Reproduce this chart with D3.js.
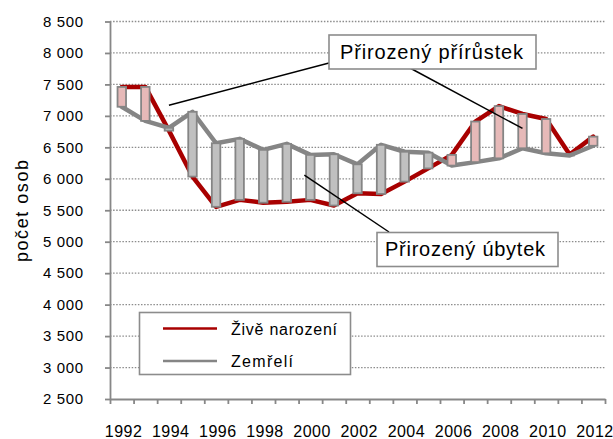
<!DOCTYPE html>
<html>
<head>
<meta charset="utf-8">
<script src="https://cdn.jsdelivr.net/npm/d3@7"></script>
<style>
  body { margin: 0; background: #fff; }
  svg { font-family: "Liberation Sans", Arial, sans-serif; }
</style>
</head>
<body>
<svg width="613" height="439"></svg>
<script>
const years = [1992, 1993, 1994, 1995, 1996, 1997, 1998, 1999, 2000, 2001, 2002,
  2003, 2004, 2005, 2006, 2007, 2008, 2009, 2010, 2011, 2012];
// Živě narození
const births = [7460, 7460, 6765, 6035, 5555, 5665, 5620, 5635, 5665, 5575, 5770,
  5760, 5955, 6165, 6380, 6910, 7155, 7030, 6950, 6385, 6670];
// Zemřelí
const deaths = [7145, 6920, 6810, 7065, 6565, 6635, 6460, 6555, 6380, 6390, 6230,
  6540, 6430, 6415, 6210, 6265, 6325, 6485, 6405, 6370, 6525];
const yTicks = [2500, 3000, 3500, 4000, 4500, 5000, 5500, 6000, 6500, 7000, 7500, 8000, 8500];
const xLabels = [1992, 1994, 1996, 1998, 2000, 2002, 2004, 2006, 2008, 2010, 2012];

const svg = d3.select('svg');

const x = d3.scaleBand()
  .domain(years)
  .range([110, 605]);
const y = d3.scaleLinear()
  .domain([2500, 8500])
  .range([399, 21.5]);
const cx = d => x(d) + x.bandwidth() / 2;

const fmt = d3.formatLocale({ decimal: ',', thousands: ' ', grouping: [3], currency: ['', ' Kč'] }).format(',d');

// gridlines
svg.append('g')
  .selectAll('line')
  .data(yTicks.slice(1))
  .enter()
  .append('line')
  .attr('x1', 110)
  .attr('x2', 605)
  .attr('y1', d => y(d))
  .attr('y2', d => y(d))
  .attr('stroke', '#8c8c8c')
  .attr('stroke-width', 1.3)
  .attr('stroke-dasharray', '1.5,1.6');

// y axis
const yAxis = svg.append('g')
  .attr('transform', 'translate(110,0)')
  .call(d3.axisLeft(y).tickValues(yTicks).tickFormat(fmt).tickSize(5).tickSizeOuter(0).tickPadding(22));
yAxis.selectAll('path, line').attr('stroke', '#878787').attr('stroke-width', 1.8);
yAxis.selectAll('text')
  .attr('font-size', 15)
  .attr('fill', '#000')
  .attr('textLength', d => d < 10000 ? 40 : 44)
  .attr('font-family', '"Liberation Sans", Arial, sans-serif');

// x axis: ticks between categories
const xEdge = d3.scaleLinear().domain([0, years.length]).range([110, 605]);
const xAxis = svg.append('g')
  .attr('transform', 'translate(0,399)')
  .call(d3.axisBottom(xEdge).tickValues(d3.range(0, years.length + 1)).tickFormat('').tickSize(5).tickSizeOuter(0));
xAxis.selectAll('path, line').attr('stroke', '#878787').attr('stroke-width', 1.8);

svg.append('g')
  .selectAll('text')
  .data(xLabels)
  .enter()
  .append('text')
  .attr('x', d => cx(d) + 1.5)
  .attr('y', 436.5)
  .attr('text-anchor', 'middle')
  .attr('font-size', 16)
  .attr('textLength', 37)
  .attr('fill', '#000')
  .text(d => d);

// y axis title
svg.append('text')
  .attr('transform', 'translate(28,211) rotate(-90)')
  .attr('text-anchor', 'middle')
  .attr('font-size', 18)
  .attr('textLength', 102)
  .attr('fill', '#000')
  .text('počet osob');

// lines
const line = d3.line()
  .x((d, i) => cx(years[i]))
  .y(d => y(d));

svg.append('path')
  .datum(births)
  .attr('d', line)
  .attr('fill', 'none')
  .attr('stroke', '#a80000')
  .attr('stroke-width', 4.5)
  .attr('stroke-linejoin', 'round')
  .attr('stroke-linecap', 'round');

svg.append('path')
  .datum(deaths)
  .attr('d', line)
  .attr('fill', 'none')
  .attr('stroke', '#858585')
  .attr('stroke-width', 4.5)
  .attr('stroke-linejoin', 'round')
  .attr('stroke-linecap', 'round');

// up-down bars
const bw = 8.5;
svg.append('g')
  .selectAll('rect')
  .data(years)
  .enter()
  .append('rect')
  .attr('x', d => cx(d) - bw / 2)
  .attr('y', (d, i) => y(Math.max(births[i], deaths[i])))
  .attr('width', bw)
  .attr('height', (d, i) => Math.abs(y(births[i]) - y(deaths[i])))
  .attr('fill', (d, i) => births[i] > deaths[i] ? '#e6b9b8' : '#c0c0c0')
  .attr('stroke', '#858585')
  .attr('stroke-width', 1.8);

// annotations
const notes = [
  { from: [329, 63], year: 1994, value: 7170 },
  { from: [410, 68], year: 2009, value: 6800 },
  { from: [389, 232], year: 2000, value: 6060, dx: -6 }
];
svg.append('g')
  .selectAll('line')
  .data(notes)
  .enter()
  .append('line')
  .attr('x1', d => d.from[0])
  .attr('y1', d => d.from[1])
  .attr('x2', d => cx(d.year) + (d.dx || 0))
  .attr('y2', d => y(d.value))
  .attr('stroke', '#000')
  .attr('stroke-width', 1.5);

const boxes = [
  { x: 329, y: 35, w: 207, h: 34, tx: 340, ty: 58.5, tl: 183, label: 'Přirozený přírůstek' },
  { x: 377, y: 232.5, w: 181, h: 34, tx: 385, ty: 256, tl: 160, label: 'Přirozený úbytek' }
];
const bx = svg.append('g')
  .selectAll('g')
  .data(boxes)
  .enter()
  .append('g');
bx.append('rect')
  .attr('x', d => d.x)
  .attr('y', d => d.y)
  .attr('width', d => d.w)
  .attr('height', d => d.h)
  .attr('fill', '#fff')
  .attr('stroke', '#8c8c8c')
  .attr('stroke-width', 1.6);
bx.append('text')
  .attr('x', d => d.tx)
  .attr('y', d => d.ty)
  .attr('font-size', 20)
  .attr('textLength', d => d.tl)
  .attr('fill', '#000')
  .text(d => d.label);

// legend
const legend = svg.append('g');
legend.append('rect')
  .attr('x', 139.5)
  .attr('y', 312.5)
  .attr('width', 211)
  .attr('height', 62)
  .attr('fill', '#fff')
  .attr('stroke', '#8c8c8c')
  .attr('stroke-width', 1.6);
const items = [
  { label: 'Živě narození', color: '#a80000', tl: 106 },
  { label: 'Zemřelí', color: '#858585', tl: 62 }
];
const li = legend.selectAll('g.item')
  .data(items)
  .enter()
  .append('g')
  .attr('class', 'item')
  .attr('transform', (d, i) => 'translate(0,' + (328.5 + i * 32.5) + ')');
li.append('line')
  .attr('x1', 163)
  .attr('x2', 217)
  .attr('stroke', d => d.color)
  .attr('stroke-width', 2.5);
li.append('text')
  .attr('x', 231)
  .attr('y', 6)
  .attr('font-size', 16)
  .attr('textLength', d => d.tl)
  .attr('fill', '#000')
  .text(d => d.label);
</script>
</body>
</html>
